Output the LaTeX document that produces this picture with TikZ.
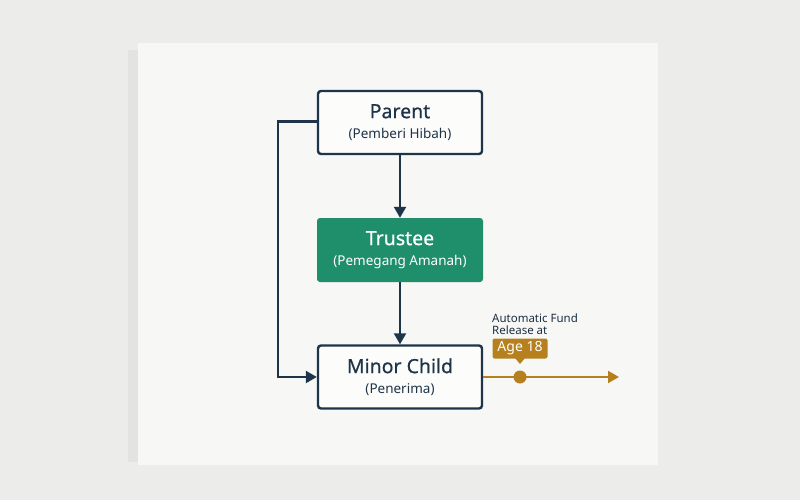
\documentclass[tikz,border=0pt]{standalone}
\usepackage{fontspec}
\setmainfont{Noto Sans}
\newfontfamily\headfont[FakeBold=0.6]{Noto Sans}
\usetikzlibrary{arrows.meta}
\definecolor{wallc}{HTML}{ECECEB}
\definecolor{canvasc}{HTML}{F7F7F6}
\definecolor{navy}{HTML}{1E3448}
\definecolor{greenc}{HTML}{1F8F6B}
\definecolor{ochre}{HTML}{B7801F}
\tikzset{
  boxnode/.style={draw=navy, line width=2.4pt, rounded corners=3pt, fill=white!60!canvasc,
    minimum width=164pt, minimum height=63pt, inner sep=0pt, align=center, text=navy,
    font=\fontsize{13.5}{20.5}\selectfont},
  greenbox/.style={fill=greenc, rounded corners=3pt,
    minimum width=166pt, minimum height=64pt, inner sep=0pt, align=center, text=white,
    font=\fontsize{13.5}{20.5}\selectfont},
  conn/.style={draw=navy, line width=2.2pt, -{Triangle[length=11pt,width=12pt]}},
  goldconn/.style={draw=ochre, line width=2pt, -{Triangle[length=11pt,width=12pt]}},
}
\newcommand{\headtxt}[1]{{\headfont\fontsize{19.5}{22}\selectfont #1}}
\begin{document}
\begin{tikzpicture}[x=1pt,y=-1pt]
\useasboundingbox (0,0) rectangle (800,500);
\fill[wallc] (0,0) rectangle (800,500);
\fill[black!11] (128,50) rectangle (140,462);
\fill[black!7] (140,463) rectangle (655,467);
\fill[canvasc] (138,43) rectangle (658,465);

\node[boxnode] (parent) at (400,122.5) {\headtxt{Parent}\\(Pemberi Hibah)};
\node[greenbox] (trustee) at (400,250) {\headtxt{Trustee}\\(Pemegang Amanah)};
\node[boxnode] (child) at (400,377) {\headtxt{Minor Child}\\(Penerima)};

\draw[conn] (parent.south) -- (trustee.north);
\draw[conn] (trustee.south) -- (child.north);
\coordinate (lt) at (278,121.5);
\coordinate (lb) at (278,377);
\draw[conn] (parent.west |- lt) -- (lt) -- (lb) -- (child.west |- lb);

\coordinate (goldend) at (619,377);
\draw[goldconn] (child.east |- goldend) -- (goldend);
\node[circle, fill=ochre, minimum size=13pt, inner sep=0pt] (dot) at (520,377) {};
\node[fill=ochre, rounded corners=2pt, minimum width=55pt, minimum height=20pt, inner sep=0pt,
  text=white, font=\fontsize{14}{16}\selectfont] (age) at (520,348.5) {Age 18};
\fill[ochre] (515,358) -- (525,358) -- (520,364) -- cycle;
\node[anchor=south west, inner sep=0pt, align=left, text=navy!90!black,
  font=\fontsize{11.5}{12.5}\selectfont] (lbl) at (492,335) {Automatic Fund\\Release at};
\end{tikzpicture}
\end{document}
